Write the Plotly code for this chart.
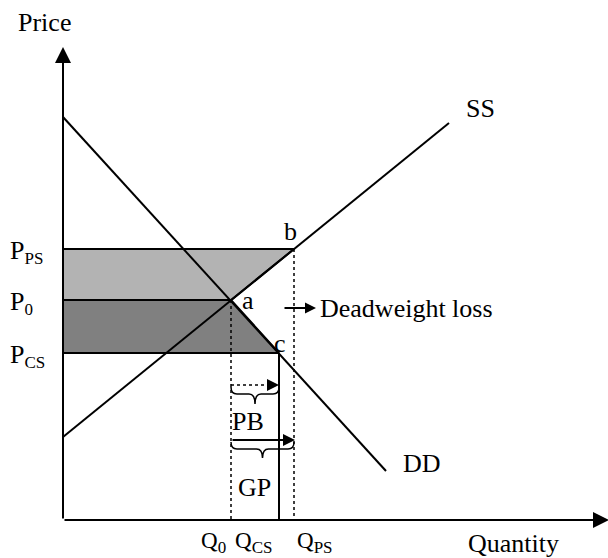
import plotly.graph_objects as go

# ---- data (quantity / price units) ----
Q0, QCS, QPS = 16.8, 21.6, 23.1
P_PS, P0, P_CS = 27.1, 22.0, 16.7
ss_q = [0.0, 38.6]
ss_p = [8.3, 39.7]
dd_q = [0.0, 32.3]
dd_p = [40.3, 4.9]
price_subs = ["PS", "0", "CS"]
qty_subs = ["0", "CS", "PS"]
q_label_left = [13.6, 17.0, 23.2]

FONT = "Liberation Serif, Times New Roman, serif"
fig = go.Figure()

# shaded areas
fig.add_trace(go.Scatter(x=[0, QPS, Q0, 0, 0], y=[P_PS, P_PS, P0, P0, P_PS],
                         fill="toself", fillcolor="#b3b3b3", mode="lines",
                         line=dict(color="black", width=2), hoverinfo="skip"))
fig.add_trace(go.Scatter(x=[0, Q0, QCS, 0, 0], y=[P0, P0, P_CS, P_CS, P0],
                         fill="toself", fillcolor="#808080", mode="lines",
                         line=dict(color="black", width=2), hoverinfo="skip"))
# supply & demand
fig.add_trace(go.Scatter(x=ss_q, y=ss_p, mode="lines", line=dict(color="black", width=2)))
fig.add_trace(go.Scatter(x=dd_q, y=dd_p, mode="lines", line=dict(color="black", width=2)))
# verticals
fig.add_trace(go.Scatter(x=[Q0, Q0], y=[P0, 0], mode="lines", line=dict(color="black", width=1.5, dash="dot")))
fig.add_trace(go.Scatter(x=[QPS, QPS], y=[P_PS, 0], mode="lines", line=dict(color="black", width=1.5, dash="dot")))
fig.add_trace(go.Scatter(x=[QCS, QCS], y=[P_CS, 0], mode="lines", line=dict(color="black", width=2)))
# PB dotted arrow line
pb_y, gp_y = 13.5, 8.0
fig.add_trace(go.Scatter(x=[Q0, QCS - 1.0], y=[pb_y, pb_y], mode="lines",
                         line=dict(color="black", width=1.5, dash="dot")))

def brace(x1, x2, y0, d1, d2, w):
    xm = (x1 + x2) / 2
    ym = y0 - d1
    yt = y0 - d2
    return (f"M {x1},{y0} Q {x1},{ym} {x1+w},{ym} L {xm-w},{ym} "
            f"Q {xm},{ym} {xm},{yt} Q {xm},{ym} {xm+w},{ym} "
            f"L {x2-w},{ym} Q {x2},{ym} {x2},{y0}")

shapes = [
    dict(type="path", path=brace(Q0, QCS, 13.3, 0.7, 1.7, 0.6), xref="x", yref="y",
         line=dict(color="black", width=1.5)),
    dict(type="path", path=brace(Q0, QPS, 7.8, 0.7, 1.6, 0.6), xref="x", yref="y",
         line=dict(color="black", width=1.5)),
]

ann = []
def arrow(x, y, ax, ay, size, width=2):
    ann.append(dict(x=x, y=y, ax=ax, ay=ay, xref="x", yref="y", axref="x", ayref="y",
                    text="", showarrow=True, arrowhead=2, arrowsize=size,
                    arrowwidth=width, arrowcolor="black", standoff=0))

# axes
arrow(0, 47.3, 0, 0, 1.6)
arrow(54.6, 0, 0, 0, 1.6)
# PB arrowhead, GP arrow, DWL arrow
arrow(QCS, pb_y, QCS - 1.2, pb_y, 1.2)
arrow(QPS + 0.1, gp_y, Q0, gp_y, 1.2)
arrow(25.3, 21.2, 22.0, 21.2, 1.1)

def label(x, y, t, xanchor="center", size=26):
    ann.append(dict(x=x, y=y, xref="x", yref="y", text=t, showarrow=False,
                    xanchor=xanchor, yanchor="middle",
                    font=dict(family=FONT, size=size, color="black")))

def sub(main, s, px):
    return f"{main}<sub><span style='font-size:{px}px'>{s}</span></sub>"

label(-1.9, 49.8, "Price")
for s, p in zip(price_subs, [P_PS, P0, P_CS]):
    label(-5.5, p - 0.3, sub("P", s, 17), xanchor="left")
for s, ql in zip(qty_subs, q_label_left):
    label(ql, -2.2, sub("Q", s, 17), xanchor="left", size=23)
label(45.0, -2.3, "Quantity")
label(41.7, 41.2, "SS")
label(35.9, 5.7, "DD")
label(18.5, 22.0, "a")
label(22.7, 28.9, "b")
label(21.7, 17.7, "c")
label(25.5, 21.2, "Deadweight loss", xanchor="left")
label(18.5, 9.9, "PB")
label(19.1, 3.3, "GP")

fig.update_layout(
    width=608, height=558, margin=dict(l=0, r=0, t=0, b=0),
    paper_bgcolor="white", plot_bgcolor="white", showlegend=False,
    xaxis=dict(range=[-6.3, 54.5], visible=False, fixedrange=True),
    yaxis=dict(range=[-3.8, 52], visible=False, fixedrange=True),
    shapes=shapes, annotations=ann,
)
fig.write_html("out.html", config={"displayModeBar": False},
               post_script="document.body.style.margin='0';document.body.style.overflow='hidden';")
